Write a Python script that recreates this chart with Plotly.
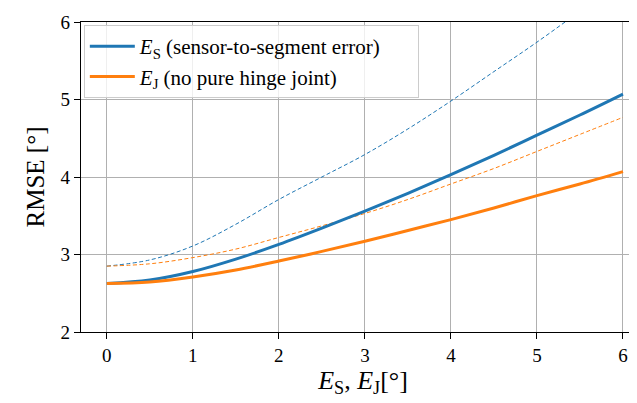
import plotly.graph_objects as go

x = [0, 0.5, 1, 1.5, 2, 2.5, 3, 3.5, 4, 4.5, 5, 5.5, 6]
es_solid = [2.625, 2.67, 2.78, 2.94, 3.13, 3.34, 3.56, 3.79, 4.03, 4.28, 4.54, 4.80, 5.07]
ej_solid = [2.625, 2.645, 2.71, 2.80, 2.915, 3.04, 3.17, 3.31, 3.45, 3.60, 3.76, 3.91, 4.07]
es_dash = [2.85, 2.93, 3.11, 3.39, 3.71, 4.00, 4.29, 4.62, 4.98, 5.36, 5.74, 6.14, 6.55]
ej_dash = [2.85, 2.88, 2.96, 3.07, 3.22, 3.37, 3.53, 3.71, 3.91, 4.11, 4.33, 4.55, 4.77]

blue = "#1f77b4"
orange = "#ff7f0e"
font = "Liberation Serif, Times New Roman, serif"
pad = "<span style='color:rgba(0,0,0,0)'>xxx</span>"

fig = go.Figure()
fig.add_trace(go.Scatter(x=x, y=es_dash, mode="lines", line=dict(color=blue, width=1, dash="4px,2.5px", shape="spline"), showlegend=False))
fig.add_trace(go.Scatter(x=x, y=ej_dash, mode="lines", line=dict(color=orange, width=1, dash="4px,2.5px", shape="spline"), showlegend=False))
fig.add_trace(go.Scatter(x=x, y=es_solid, mode="lines", line=dict(color=blue, width=3, shape="spline"),
                         name="<i>E</i><sub>S</sub> (sensor-to-segment error)" + pad))
fig.add_trace(go.Scatter(x=x, y=ej_solid, mode="lines", line=dict(color=orange, width=3, shape="spline"),
                         name="<i>E</i><sub>J</sub> (no pure hinge joint)"))

axis_common = dict(showline=True, linecolor="black", linewidth=1.2, mirror=True,
                   ticks="outside", ticklen=6, tickwidth=1.2, tickcolor="black",
                   showgrid=True, gridcolor="#b0b0b0", gridwidth=1.3, zeroline=False,
                   tickfont=dict(family=font, size=19, color="black"))

fig.update_layout(
    width=637, height=403,
    margin=dict(l=73, r=0, t=14, b=79),
    plot_bgcolor="white", paper_bgcolor="white",
    font=dict(family=font, color="black"),
    xaxis=dict(range=[-0.3, 6.256], tickvals=[0, 1, 2, 3, 4, 5, 6],
               title=dict(text="<i>E</i><sub>S</sub>, <i>E</i><sub>J</sub>[°]", font=dict(family=font, size=26), standoff=4),
               **axis_common),
    yaxis=dict(range=[2, 6], tickvals=[2, 3, 4, 5, 6],
               title=dict(text="RMSE [°]", font=dict(family=font, size=25), standoff=8),
               **axis_common),
    legend=dict(x=0.005, y=0.99, xanchor="left", yanchor="top",
                bgcolor="rgba(255,255,255,0.8)", bordercolor="#cccccc", borderwidth=1,
                font=dict(family=font, size=21, color="black"), tracegroupgap=0, itemwidth=45),
)

fig.write_html("out.html")
